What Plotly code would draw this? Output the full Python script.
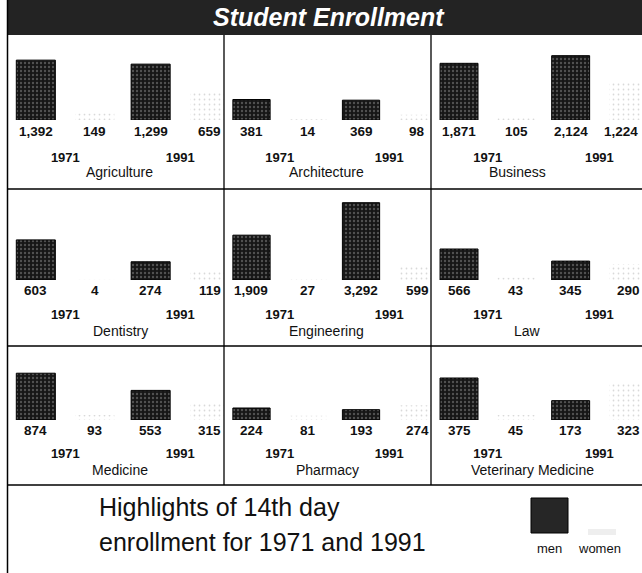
import plotly.graph_objects as go

# ---------------- data ----------------
title_text = "Student Enrollment"
categories = ["Agriculture", "Architecture", "Business",
              "Dentistry", "Engineering", "Law",
              "Medicine", "Pharmacy", "Veterinary Medicine"]
years = ["1971", "1991"]
men_1971 = [1392, 381, 1871, 603, 1909, 566, 874, 224, 375]
women_1971 = [149, 14, 105, 4, 27, 43, 93, 81, 45]
men_1991 = [1299, 369, 2124, 274, 3292, 345, 553, 193, 173]
women_1991 = [659, 98, 1224, 119, 599, 290, 315, 274, 323]
note_lines = ["Highlights of 14th day", "enrollment for 1971 and 1991"]
legend_labels = ["men", "women"]

# ---------------- layout / style ----------------
W, H = 642, 573
col_edges = [7, 224, 431, 642]
row_tops = [35, 189, 346]
row_bottoms = [189, 346, 485]
baselines = [120, 280, 420]
number_y = [131, 290, 430]
cat_y = [172, 331, 470]
year_standoff = [28, 25, 24]
# the original draws each panel on its own value scale
panel_ymax = [1930, 1545, 2740, 1338, 3790, 1625, 1345, 1345, 643]
# horizontal placement of the category caption (in year-slot units)
cat_xpos = [0.47, 0.43, 0.27, 0.48, 0.43, 0.36, 0.48, 0.44, 0.40]
X_RANGE = [-0.508, 1.382]
OFF = 0.257
BAR_W = 0.34
NUM_SIZE = 13.5

INK = "#111111"
BASE_FONT = "Liberation Sans, Arial, Helvetica, sans-serif"


def xp(px):
    return px / W


def yp(py):
    return 1 - py / H


fig = go.Figure()
annotations = []
layout_axes = {}

for i, cat in enumerate(categories):
    r, c = divmod(i, 3)
    n = i + 1
    xname = "x" if n == 1 else f"x{n}"
    yname = "y" if n == 1 else f"y{n}"
    left, right = col_edges[c], col_edges[c + 1]
    width_px = right - left

    xs_men = [k - OFF for k in range(len(years))]
    xs_women = [k + OFF for k in range(len(years))]
    men_vals = [men_1971[i], men_1991[i]]
    women_vals = [women_1971[i], women_1991[i]]

    fig.add_trace(go.Bar(
        x=xs_men, y=men_vals, width=BAR_W, xaxis=xname, yaxis=yname,
        name="men", showlegend=False, hoverinfo="skip",
        marker=dict(color="#161616",
                    line=dict(color="#000000", width=1),
                    pattern=dict(shape=".", fgcolor="#8c8c8c", bgcolor="#161616",
                                 size=4, solidity=0.28))))
    fig.add_trace(go.Bar(
        x=xs_women, y=women_vals, width=BAR_W, xaxis=xname, yaxis=yname,
        name="women", showlegend=False, hoverinfo="skip",
        marker=dict(color="#ffffff",
                    line=dict(color="#ffffff", width=0),
                    pattern=dict(shape=".", fgcolor="#b4b4b4", bgcolor="#ffffff",
                                 size=5, solidity=0.1))))

    key_x = "xaxis" if n == 1 else f"xaxis{n}"
    key_y = "yaxis" if n == 1 else f"yaxis{n}"
    layout_axes[key_x] = dict(
        domain=[xp(left), xp(right)], range=X_RANGE, anchor=yname,
        showgrid=False, zeroline=False, showline=False, ticks="",
        tickvals=list(range(len(years))), ticktext=years,
        tickfont=dict(family=BASE_FONT, size=13, color=INK, weight="bold"),
        ticklabelstandoff=year_standoff[r], fixedrange=True)
    layout_axes[key_y] = dict(
        domain=[yp(baselines[r]), yp(row_tops[r] + 2)], range=[0, panel_ymax[i]],
        anchor=xname, visible=False, fixedrange=True)

    px_per_unit = width_px / (X_RANGE[1] - X_RANGE[0])
    for xv, v in zip(xs_men + xs_women, men_vals + women_vals):
        label = f"{v:,}"
        centre_px = left + (xv - X_RANGE[0]) * px_per_unit
        half_w = len(label) * 0.56 * NUM_SIZE / 2
        font = dict(family=BASE_FONT, size=NUM_SIZE, color=INK, weight="bold")
        if centre_px + half_w > W - 2:
            annotations.append(dict(
                xref="paper", yref="paper", x=xp(W - 2), y=yp(number_y[r]),
                text=label, showarrow=False, xanchor="right", yanchor="middle",
                font=font))
        else:
            annotations.append(dict(
                xref=xname, yref="paper", x=xv, y=yp(number_y[r]),
                text=label, showarrow=False, xanchor="center", yanchor="middle",
                font=font))
    annotations.append(dict(
        xref=xname, yref="paper", x=cat_xpos[i], y=yp(cat_y[r]), text=cat,
        showarrow=False, xanchor="center", yanchor="middle",
        font=dict(family=BASE_FONT, size=14, color=INK)))

# title
annotations.append(dict(
    xref="paper", yref="paper", x=xp(329), y=yp(17), text=f"<b><i>{title_text}</i></b>",
    showarrow=False, xanchor="center", yanchor="middle",
    font=dict(family=BASE_FONT, size=25, color="#ffffff")))

# note text
for k, line in enumerate(note_lines):
    annotations.append(dict(
        xref="paper", yref="paper", x=xp(97), y=yp(507 + 35 * k), text=line,
        showarrow=False, xanchor="left", yanchor="middle",
        font=dict(family=BASE_FONT, size=25, color=INK)))

# legend key labels
for lab, px in zip(legend_labels, [549, 599]):
    annotations.append(dict(
        xref="paper", yref="paper", x=xp(px), y=yp(548), text=lab,
        showarrow=False, xanchor="center", yanchor="middle",
        font=dict(family=BASE_FONT, size=13, color=INK)))

shapes = []
# title bar
shapes.append(dict(type="rect", xref="paper", yref="paper",
                   x0=xp(7), x1=xp(W), y0=yp(0), y1=yp(35),
                   fillcolor="#232323", line=dict(width=0), layer="below"))
# left border
shapes.append(dict(type="line", xref="paper", yref="paper",
                   x0=xp(7.5), x1=xp(7.5), y0=yp(0), y1=yp(H),
                   line=dict(color="#000000", width=1.5)))
# row dividers
for py in row_bottoms:
    shapes.append(dict(type="line", xref="paper", yref="paper",
                       x0=xp(7), x1=xp(W), y0=yp(py), y1=yp(py),
                       line=dict(color="#000000", width=1.5)))
# column dividers
for px in col_edges[1:3]:
    shapes.append(dict(type="line", xref="paper", yref="paper",
                       x0=xp(px), x1=xp(px), y0=yp(35), y1=yp(485),
                       line=dict(color="#000000", width=1.3)))
# legend key swatches
shapes.append(dict(type="rect", xref="paper", yref="paper",
                   x0=xp(531), x1=xp(568), y0=yp(533), y1=yp(498),
                   fillcolor="#262626", line=dict(color="#000000", width=1)))
shapes.append(dict(type="rect", xref="paper", yref="paper",
                   x0=xp(588), x1=xp(616), y0=yp(535), y1=yp(529),
                   fillcolor="#eeeeee", line=dict(width=0)))

fig.update_layout(
    width=W, height=H, margin=dict(l=0, r=0, t=0, b=0),
    paper_bgcolor="#ffffff", plot_bgcolor="rgba(0,0,0,0)",
    barmode="overlay", showlegend=False,
    annotations=annotations, shapes=shapes,
    **layout_axes)

fig.write_html(
    "out.html",
    config={"displayModeBar": False, "staticPlot": True},
    post_script="document.body.style.margin='0';document.body.style.overflow='hidden';")
